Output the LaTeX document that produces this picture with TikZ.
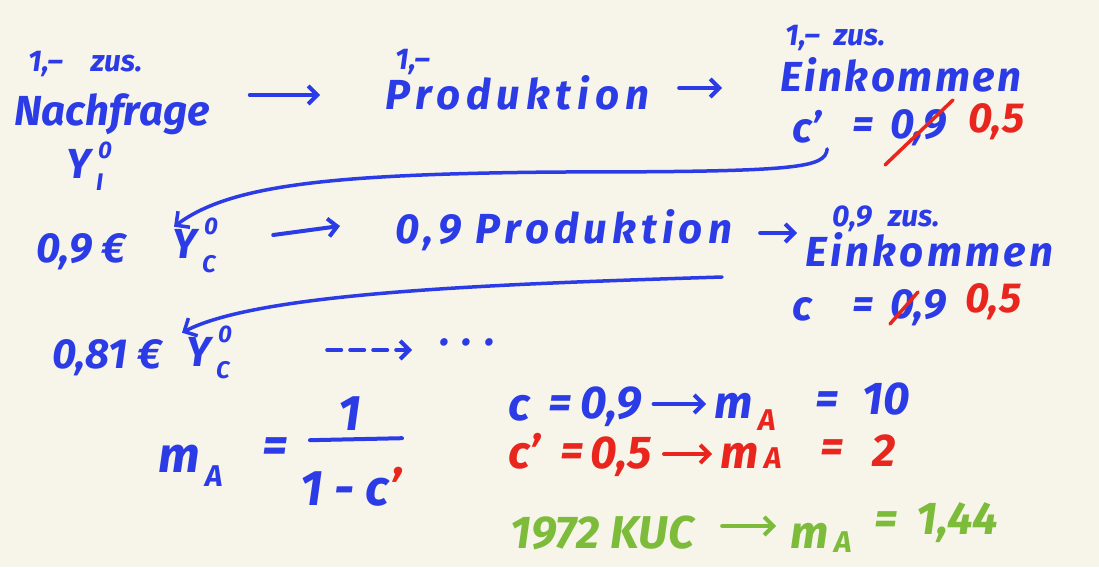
\documentclass[tikz,border=0pt]{standalone}
\usepackage{fontspec}
\setmainfont{Fira Sans}
\usetikzlibrary{arrows.meta}
\definecolor{ink}{HTML}{2B3BE6}
\definecolor{redink}{HTML}{E8261E}
\definecolor{greenink}{HTML}{7DBB3A}
\definecolor{paper}{HTML}{F7F4EA}
\begin{document}
\begin{tikzpicture}[x=1pt,y=-1pt,
  hw/.style={font=\fontsize{42}{46}\selectfont\itshape\bfseries, text=ink, inner sep=0pt, anchor=base west},
  wide/.style={font=\fontsize{42}{46}\selectfont\itshape\bfseries\addfontfeature{LetterSpace=14}, text=ink, inner sep=0pt, anchor=base west},
  sm/.style={font=\fontsize{30}{34}\selectfont\itshape\bfseries, text=ink, inner sep=0pt, anchor=base west},
  tiny/.style={font=\fontsize{24}{26}\selectfont\itshape\bfseries, text=ink, inner sep=0pt, anchor=base west},
  big/.style={font=\fontsize{50}{54}\selectfont\itshape\bfseries, text=ink, inner sep=0pt, anchor=base west},
  res/.style={font=\fontsize{46}{50}\selectfont\itshape\bfseries, inner sep=0pt, anchor=base west},
  ressub/.style={font=\fontsize{30}{34}\selectfont\itshape\bfseries, inner sep=0pt, anchor=base west},
  arr/.style={draw=ink, line width=4pt, line cap=round, -{Straight Barb[length=9pt,width=18pt,line width=4pt]}},
  curve/.style={draw=ink, line width=3.5pt, line cap=round, -{Straight Barb[length=10pt,width=20pt,line width=3.5pt]}},
  strike/.style={draw=redink, line width=3.5pt, line cap=round},
  red/.style={text=redink},
  blue/.style={text=ink},
  green/.style={text=greenink}
]
\fill[paper] (0,0) rectangle (1099,567);
\useasboundingbox (0,0) rectangle (1099,567);

% row 1
\node[sm] (z1) at (28,72) {1,–\hspace{28pt}zus.};
\node[hw] (nach) at (14,125) {Nachfrage};
\node[hw] (yi) at (66,178) {Y};
\node[tiny] (yisup) at (98,158) {0};
\node[tiny] (yisub) at (96,190) {I};
\node[sm] (p1) at (395,70) {1,–};
\node[wide] (prod1) at (385,110) {Produktion};
\node[sm] (e1a) at (785,46) {1,–\hspace{14pt}zus.};
\node[wide, font=\fontsize{42}{46}\selectfont\itshape\bfseries\addfontfeature{LetterSpace=6}] (ein1) at (780,92) {Einkommen};
\node[hw] (c1) at (792,142) {c'};
\node[hw] (eq1) at (852,138) {=};
\node[hw] (c1v) at (890,138) {0,9};
\node[hw, red] (c1n) at (968,132) {0,5};
\draw[strike] ([shift={(-5,27)}]c1v.base west) -- ([shift={(63,-38)}]c1v.base west);
\draw[arr] ([shift={(40,-30)}]nach.base east) -- ([shift={(-65,-30)}]nach.base east -| prod1.west);
\draw[arr] ([shift={(30,-22)}]prod1.base east) -- ([shift={(-58,-22)}]prod1.base east -| ein1.west);

% row 2
\node[hw] (e2) at (36,262) {0,9 €};
\node[hw] (yc2) at (172,258) {Y};
\node[tiny] (yc2sup) at (204,234) {0};
\node[tiny] (yc2sub) at (202,272) {C};
\node[wide, font=\fontsize{42}{46}\selectfont\itshape\bfseries\addfontfeature{LetterSpace=12}] (prod2) at (395,243) {0,9 Produktion};
\node[sm] (z2) at (832,226) {0,9\hspace{16pt}zus.};
\node[wide, font=\fontsize{42}{46}\selectfont\itshape\bfseries\addfontfeature{LetterSpace=8}] (ein2) at (805,266) {Einkommen};
\node[hw] (c2) at (792,320) {c};
\node[hw] (eq2) at (852,318) {=};
\node[hw] (c2v) at (890,318) {0,9};
\node[hw, red] (c2n) at (965,312) {0,5};
\draw[strike] ([shift={(0,6)}]c2v.base west) -- ([shift={(28,-26)}]c2v.base west);
\draw[arr] ([shift={(55,1)}]yc2sup.base east) -- ([shift={(-55,-8)}]yc2sup.base east -| prod2.west);
\draw[arr] ([shift={(28,-10)}]prod2.base east) -- ([shift={(-8,-10)}]prod2.base east -| ein2.west);

% curve 1
\draw[curve] ([shift={(5,6)}]c1.south east) .. controls (825,168) and (800,172) .. (560,172) .. controls (330,174) and (230,185) .. ([shift={(2,-2)}]yc2.north west);

% row 3
\node[hw] (e3) at (52,368) {0,81 €};
\node[hw] (yc3) at (186,366) {Y};
\node[tiny] (yc3sup) at (218,342) {0};
\node[tiny] (yc3sub) at (216,378) {C};
\node[hw] (dots) at (440,345) {. . .};
\path ([shift={(95,8)}]yc3sup.base east) coordinate (ds);
\draw[arr, dash pattern=on 14pt off 9pt] (ds) -- ([xshift=-28pt]ds -| dots.west);
\draw[curve] ([shift={(-10,34)}]prod2.base east) .. controls (500,284) and (260,292) .. ([shift={(-4,-4)}]yc3.north west);

% formula
\node[big] (m) at (158,472) {m};
\node[sm] (msub) at (205,486) {A};
\node[big] (eq) at (262,462) {=};
\node[big] (num) at (338,430) {1};
\node[big] (den) at (300,505) {1 - c\textcolor{redink}{'}};
\draw[draw=ink, line width=4pt, line cap=round] (num.south west) ++(-28,10) coordinate (bar1) -- ++(92,-2);

% right block, row 1 (blue)
\node[res, blue] (r1c) at (508,420) {c};
\node[res, blue] (r1e) at (548,418) {=};
\node[res, blue] (r1v) at (580,418) {0,9};
\node[res, blue] (r1m) at (714,418) {m};
\node[ressub, red] (r1a) at (758,430) {A};
\node[res, blue] (r1q) at (815,414) {=};
\node[res, blue] (r1r) at (862,414) {10};
\draw[arr] ([xshift=12pt,yshift=14pt]r1v.base east) -- ([xshift=-8pt,yshift=14pt]r1v.base east -| r1m.west);
% row 2 (red)
\node[res, red] (r2c) at (508,468) {c'};
\node[res, red] (r2e) at (560,466) {=};
\node[res, red] (r2v) at (590,468) {0,5};
\node[res, red] (r2m) at (720,468) {m};
\node[ressub, red] (r2a) at (764,468) {A};
\node[res, red] (r2q) at (820,462) {=};
\node[res, red] (r2r) at (872,466) {2};
\draw[arr, draw=redink] ([xshift=12pt,yshift=14pt]r2v.base east) -- ([xshift=-8pt,yshift=14pt]r2v.base east -| r2m.west);
% row 3 (green)
\node[res, green] (r3y) at (510,548) {1972 KUC};
\node[res, green] (r3m) at (790,548) {m};
\node[ressub, green] (r3a) at (834,552) {A};
\node[res, green] (r3q) at (874,534) {=};
\node[res, green] (r3r) at (916,534) {1,44};
\draw[arr, draw=greenink] ([xshift=28pt,yshift=22pt]r3y.base east) -- ([xshift=-14pt,yshift=22pt]r3y.base east -| r3m.west);
\end{tikzpicture}
\end{document}
